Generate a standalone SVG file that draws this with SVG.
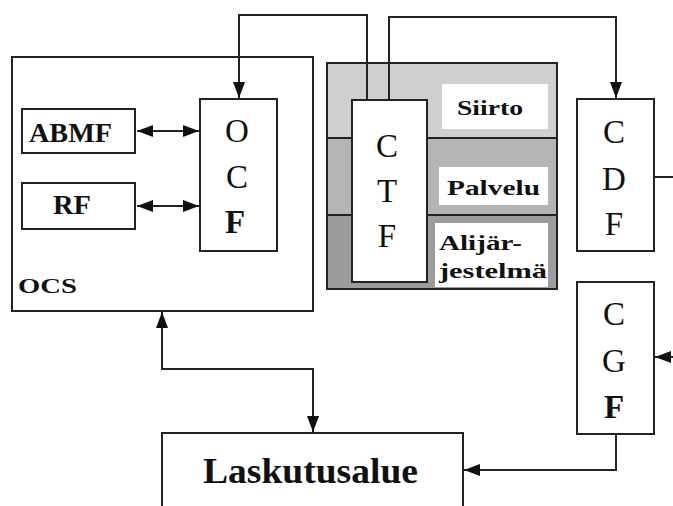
<svg xmlns="http://www.w3.org/2000/svg" width="673" height="506" viewBox="0 0 673 506">
<style>
.box{fill:#fff;stroke:#222;stroke-width:2}
.ln{fill:none;stroke:#222;stroke-width:2}
.big{font-size:33px;fill:#111;text-anchor:middle}
.b{font-weight:bold}
.lbl{font-weight:bold;fill:#111}
</style>
<defs>
<marker id="ah" markerUnits="userSpaceOnUse" markerWidth="17" markerHeight="12" refX="16" refY="6" orient="auto-start-reverse">
<path d="M0,0 L16,6 L0,12 z" fill="#111"/>
</marker>
</defs>
<rect width="673" height="506" fill="#fff"/>
<g font-family="Liberation Serif, DejaVu Serif, serif">
<g id="OCS">
<rect class="box" x="12" y="57" width="301" height="254"/>
<text class="lbl" x="18" y="293" font-size="22" textLength="59" lengthAdjust="spacingAndGlyphs">OCS</text>
</g>
<g id="ABMF">
<rect class="box" x="22" y="109" width="113" height="44"/>
<text class="lbl" x="29" y="142" font-size="28" textLength="83" lengthAdjust="spacingAndGlyphs">ABMF</text>
</g>
<g id="RF">
<rect class="box" x="22" y="183" width="113" height="46"/>
<text class="lbl" x="53" y="214" font-size="27" textLength="38" lengthAdjust="spacingAndGlyphs">RF</text>
</g>
<g id="OCF">
<rect class="box" x="200" y="99" width="77" height="152"/>
<text class="big" x="237" y="142">O</text>
<text class="big" x="237" y="188">C</text>
<text class="big b" x="235" y="233">F</text>
</g>

<g id="CTFgroup">
<rect x="327" y="63" width="230" height="75" fill="#cfcfcf"/>
<rect x="327" y="138" width="230" height="77" fill="#b5b5b5"/>
<rect x="327" y="215" width="230" height="74" fill="#9c9c9c"/>
<line class="ln" x1="327" y1="138" x2="557" y2="138"/>
<line class="ln" x1="327" y1="215" x2="557" y2="215"/>
<rect x="327" y="63" width="230" height="226" fill="none" stroke="#222" stroke-width="2"/>
<rect x="442" y="84" width="106" height="45" fill="#fff"/>
<text class="lbl" x="457" y="115" font-size="22" textLength="66" lengthAdjust="spacingAndGlyphs">Siirto</text>
<rect x="439" y="167" width="109" height="38" fill="#fff"/>
<text class="lbl" x="447" y="195" font-size="22" textLength="93" lengthAdjust="spacingAndGlyphs">Palvelu</text>
<rect x="435" y="223" width="113" height="64" fill="#fff"/>
<text class="lbl" x="439" y="250" font-size="22" textLength="83" lengthAdjust="spacingAndGlyphs">Alijär-</text>
<text class="lbl" x="439" y="278" font-size="22" textLength="108" lengthAdjust="spacingAndGlyphs">jestelmä</text>
</g>
<g id="CTF">
<rect class="box" x="352" y="100" width="75" height="182"/>
<text class="big" x="387" y="157">C</text>
<text class="big" x="387" y="202">T</text>
<text class="big" x="387" y="247">F</text>
</g>
<g id="CDF">
<rect class="box" x="577" y="99" width="77" height="152"/>
<text class="big" x="614" y="143">C</text>
<text class="big" x="614" y="190">D</text>
<text class="big" x="614" y="235">F</text>
</g>
<g id="CGF">
<rect class="box" x="577" y="282" width="77" height="152"/>
<text class="big" x="614" y="325">C</text>
<text class="big" x="614" y="372">G</text>
<text class="big b" x="614" y="418">F</text>
</g>
<g id="Laskutusalue">
<rect class="box" x="162" y="433" width="301" height="90"/>
<text class="lbl" x="203" y="483" font-size="36" textLength="215" lengthAdjust="spacingAndGlyphs">Laskutusalue</text>
</g>
</g>
<g id="connectors">
<line class="ln" x1="137" y1="131" x2="199" y2="131" marker-start="url(#ah)" marker-end="url(#ah)"/>
<line class="ln" x1="137" y1="206" x2="199" y2="206" marker-start="url(#ah)" marker-end="url(#ah)"/>
<polyline class="ln" points="367,99 367,15 239,15 239,98" marker-end="url(#ah)"/>
<polyline class="ln" points="389,99 389,17 616,17 616,98" marker-end="url(#ah)"/>
<line class="ln" x1="654" y1="177" x2="673" y2="177"/>
<line class="ln" x1="675" y1="357" x2="655" y2="357" marker-end="url(#ah)"/>
<polyline class="ln" points="616,434 616,470 464,470" marker-end="url(#ah)"/>
<polyline class="ln" points="162,312 162,369 313,369 313,432" marker-start="url(#ah)" marker-end="url(#ah)"/>
</g>
</svg>
